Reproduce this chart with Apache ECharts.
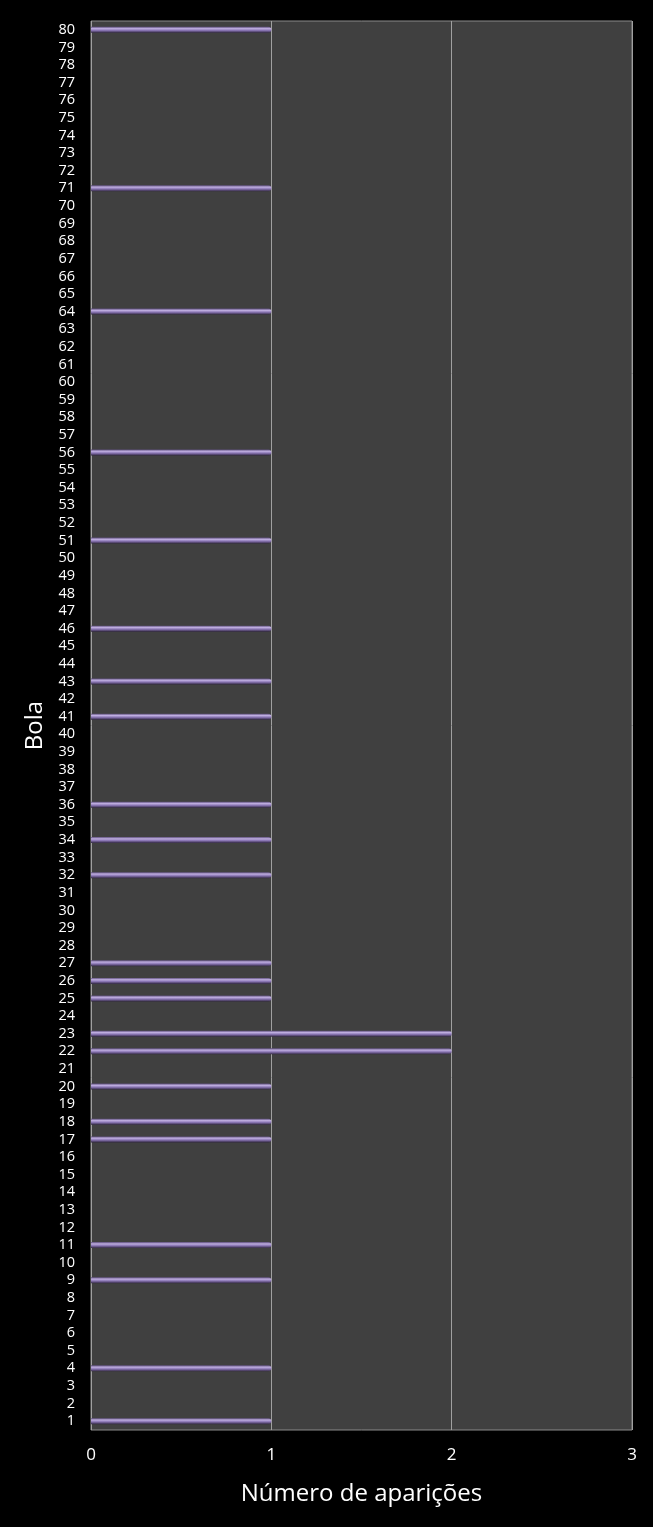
<!DOCTYPE html>
<html><head><meta charset="utf-8">
<script src="https://cdn.jsdelivr.net/npm/echarts@6/dist/echarts.min.js"></script>
<style>html,body{margin:0;padding:0;background:#000;}#c{width:653px;height:1527px;}</style>
</head><body><div id="c"></div>
<script>
var categories = [];
for (var i = 1; i <= 80; i++) categories.push(String(i));
var onceBalls = [1,4,9,11,17,18,20,25,26,27,32,34,36,41,43,46,51,56,64,71,80];
var twiceBalls = [22,23];
var values = categories.map(function(c){
  var n = +c;
  if (twiceBalls.indexOf(n) >= 0) return 2;
  if (onceBalls.indexOf(n) >= 0) return 1;
  return 0;
});
var xTicks = [0,1,2,3];
var font = '"Open Sans", "Noto Sans", sans-serif';
var chart = echarts.init(document.getElementById('c'));
chart.setOption({
  backgroundColor: '#000',
  animation: false,
  grid: {left: 91, top: 21, width: 541, height: 1409, show: true, backgroundColor: '#404040', borderColor: '#8a8a8a', borderWidth: 1},
  xAxis: {
    type: 'value', min: 0, max: 3, interval: 1,
    name: 'Número de aparições', nameLocation: 'middle', nameGap: 52,
    nameTextStyle: {color: '#fff', fontSize: 24, fontFamily: font},
    axisLine: {show: false}, axisTick: {show: false},
    axisLabel: {color: '#fff', fontSize: 17, fontFamily: font, margin: 17,
      formatter: function(v){ return xTicks.indexOf(v) >= 0 ? String(v) : ''; }},
    splitLine: {show: true, lineStyle: {color: '#a0a0a0', width: 1}}
  },
  yAxis: {
    type: 'category', data: categories,
    name: 'Bola', nameLocation: 'middle', nameGap: 42, nameRotate: 90,
    nameTextStyle: {color: '#fff', fontSize: 24, fontFamily: font},
    axisLine: {show: false}, axisTick: {show: false},
    axisLabel: {color: '#fff', fontSize: 14.5, fontFamily: font, interval: 0, margin: 16}
  },
  series: [{
    type: 'bar', data: values, barWidth: 6,
    itemStyle: {
      color: new echarts.graphic.LinearGradient(0, 0, 0, 1, [
        {offset: 0, color: '#5e4f7c'},
        {offset: 0.3, color: '#bfaee0'},
        {offset: 0.6, color: '#8a76b4'},
        {offset: 1, color: '#322842'}
      ]),
      borderRadius: [0, 3, 3, 0]
    }
  }]
});
</script></body></html>
